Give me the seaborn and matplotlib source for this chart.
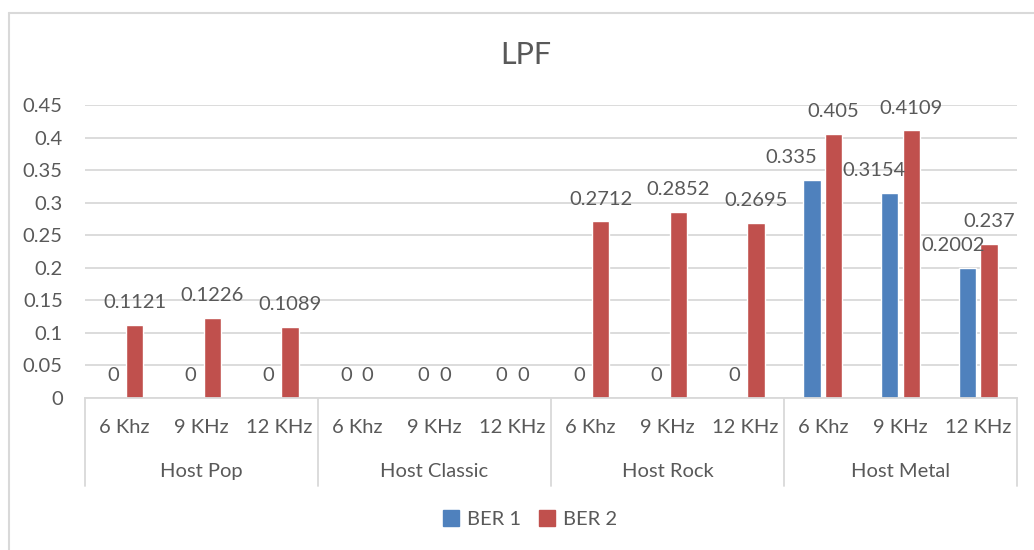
import numpy as np
import pandas as pd
import seaborn as sns
from matplotlib import pyplot as plt
from matplotlib.lines import Line2D
from matplotlib.patches import Patch

# data
hosts = ['Host Pop', 'Host Classic', 'Host Rock', 'Host Metal']
freqs = ['6 Khz', '9 KHz', '12 KHz']
ber1 = [0, 0, 0, 0, 0, 0, 0, 0, 0, 0.335, 0.3154, 0.2002]
ber2 = [0.1121, 0.1226, 0.1089, 0, 0, 0, 0.2712, 0.2852, 0.2695, 0.405, 0.4109, 0.237]
series = ['BER 1', 'BER 2']
colors = ['#4F81BD', '#C0504D']

cats = [h + '|' + f for h in hosts for f in freqs]
df = pd.DataFrame({
    'cat': cats * 2,
    'series': ['BER 1'] * len(cats) + ['BER 2'] * len(cats),
    'value': ber1 + ber2,
})

sns.set_style('white')
plt.rcParams['font.family'] = ['Lato', 'DejaVu Sans']
txt = '#595959'
grid = '#D9D9D9'
fs = 14.5

fig = plt.figure(figsize=(10.34, 5.5), dpi=100)
ax = fig.add_axes([85 / 1034, 1 - 398 / 550, (1017 - 85) / 1034, (398 - 105) / 550])

sns.barplot(data=df, x='cat', y='value', hue='series', order=cats, hue_order=series,
            palette=colors, width=0.56, gap=0.2, saturation=1, legend=False, ax=ax)

ax.set_ylim(0, 0.45)
ax.set_xlim(-0.5, len(cats) - 0.5)
ax.set_yticks(np.arange(0, 0.451, 0.05))
ax.set_yticklabels(['0'] + ['%g' % v for v in np.arange(0.05, 0.451, 0.05)])
ax.yaxis.grid(True, color=grid, lw=1.3)
ax.set_axisbelow(True)
for s in ['top', 'right', 'left']:
    ax.spines[s].set_visible(False)
ax.spines['bottom'].set_color(grid)
ax.spines['bottom'].set_linewidth(1.3)
ax.tick_params(axis='y', length=0, pad=16, labelsize=fs, labelcolor=txt)
ax.tick_params(axis='x', length=0, pad=15, labelsize=fs, labelcolor=txt)
ax.set_xticks(range(len(cats)))
ax.set_xticklabels([c.split('|')[1] for c in cats])
ax.set_xlabel('')
ax.set_ylabel('')

# data labels
shift = {9: -15, 10: -11, 11: -10}
for k, cont in enumerate(ax.containers):
    anns = ax.bar_label(cont, labels=['%g' % v for v in cont.datavalues],
                        padding=10, fontsize=fs, color=txt)
    if k == 0:
        for i, a in enumerate(anns):
            if i in shift:
                a.xyann = (shift[i], 10)

# group tier
trans = ax.get_xaxis_transform()
for g, h in enumerate(hosts):
    ax.text(g * 3 + 1, -0.252, h, transform=trans, ha='center', va='center',
            fontsize=fs, color=txt)
for g in range(len(hosts) + 1):
    ax.plot([g * 3 - 0.5] * 2, [0, -0.30], transform=trans, color=grid,
            lw=1.3, clip_on=False)

fig.suptitle('LPF', x=526 / 1034, y=1 - 55 / 550, va='center', fontsize=22, color=txt)

handles = [Patch(color=c) for c in colors]
fig.legend(handles, series, loc='center', bbox_to_anchor=(530 / 1034, 1 - 519 / 550),
           ncol=2, frameon=False, fontsize=fs, labelcolor=txt, handlelength=0.8,
           handleheight=0.8, handletextpad=0.4, columnspacing=0.9)

# chart border
fig.add_artist(Line2D([9 / 1034, 9 / 1034], [0, 1 - 13 / 550], color=grid, lw=1.5))
fig.add_artist(Line2D([9 / 1034, 1], [1 - 13 / 550, 1 - 13 / 550], color=grid, lw=1.5))

fig.savefig('out.png', dpi=100)
